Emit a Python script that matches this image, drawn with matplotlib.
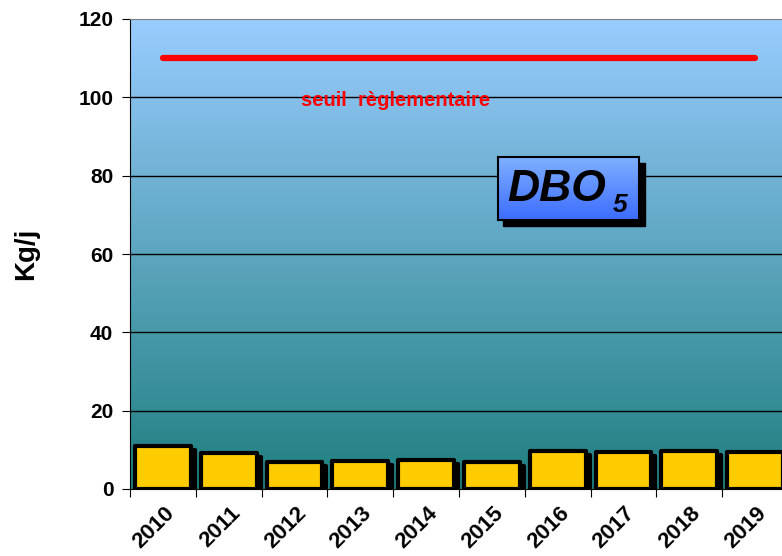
import numpy as np
import matplotlib.pyplot as plt
import matplotlib.transforms as mtransforms
from matplotlib.colors import LinearSegmentedColormap
from matplotlib.patches import Rectangle

plt.rcParams['font.family'] = ['Liberation Sans', 'DejaVu Sans']

annees = ['2010', '2011', '2012', '2013', '2014', '2015', '2016', '2017', '2018', '2019']
dbo5 = [11.1, 9.1, 6.8, 7.1, 7.5, 6.8, 9.8, 9.5, 9.8, 9.4]
seuil = 110
ymax = 120

W, H = 782, 556
fig = plt.figure(figsize=(W / 100, H / 100), dpi=100)
ax = fig.add_axes([130 / W, 1 - 489 / H, 658 / W, 470 / H])

n = len(annees)
x = np.arange(n) + 0.5

# fond degrade
fond = LinearSegmentedColormap.from_list('fond', ['#1F7F7F', '#99CCFF'])
grad = np.linspace(0, 1, 256).reshape(-1, 1)
ax.imshow(grad, cmap=fond, origin='lower', aspect='auto',
          extent=[0, n, 0, ymax], zorder=0)

ax.set_xlim(0, n)
ax.set_ylim(0, ymax)
ax.set_yticks(np.arange(0, 121, 20))
for v in range(20, 101, 20):
    ax.axhline(v, color='black', lw=1, zorder=1)

# barres avec ombre
dx = mtransforms.ScaledTranslation(4 / 100, -4 / 100, fig.dpi_scale_trans)
ax.bar(x, dbo5, width=0.85, color='black', edgecolor='black', lw=3,
       joinstyle='round', zorder=2, transform=ax.transData + dx)
ax.bar(x, dbo5, width=0.85, color='#FFCC00', edgecolor='black', lw=3,
       joinstyle='round', zorder=3)

# seuil
ax.plot([x[0], x[-1]], [seuil, seuil], color='#FF0000', lw=4.5,
        solid_capstyle='round', zorder=4)
ax.text((396 - 130) / 65.8, 99.3, 'seuil  règlementaire',
        color='#FF0000', fontsize=14.5, fontweight='bold',
        ha='center', va='center', zorder=5)

# axes
ax.set_xticks(np.arange(0, n + 1))
ax.set_xticklabels([])
ax.set_xticks(x, minor=True)
ax.set_xticklabels(annees, minor=True, rotation=45, ha='right', va='top',
                   rotation_mode='anchor', fontsize=16, fontweight='bold')
ax.tick_params(axis='x', which='minor', length=0, pad=10)
ax.tick_params(axis='x', which='major', length=6, direction='out')
off = mtransforms.ScaledTranslation(1 / 100, 0, fig.dpi_scale_trans)
for lab in ax.get_xticklabels(minor=True):
    lab.set_transform(lab.get_transform() + off)

ax.tick_params(axis='y', length=6, direction='out', pad=6, labelsize=15)
for lab in ax.get_yticklabels():
    lab.set_fontweight('bold')
ax.set_ylabel('Kg/j', fontsize=20, fontweight='bold', labelpad=28)

ax.spines['top'].set_color('#808080')
ax.spines['right'].set_visible(False)
ax.spines['left'].set_color('black')
ax.spines['bottom'].set_color('black')

# cadre DBO5
fig.patches.append(Rectangle((503 / W, 1 - 226 / H), 142 / W, 63 / H,
                             transform=fig.transFigure, color='black', zorder=5))
bax = fig.add_axes([498 / W, 1 - 220 / H, 141 / W, 63 / H], zorder=6)
bleu = LinearSegmentedColormap.from_list('bleu', ['#3C6CFF', '#80B0FF'])
bax.imshow(grad, cmap=bleu, origin='lower', aspect='auto', extent=[0, 1, 0, 1])
bax.set_xlim(0, 1)
bax.set_ylim(0, 1)
bax.set_xticks([])
bax.set_yticks([])
for sp in bax.spines.values():
    sp.set_linewidth(1.5)
    sp.set_color('black')
bax.text(0.065, 0.48, 'DBO', fontsize=32, fontweight='bold', style='italic',
         ha='left', va='center', transform=bax.transAxes)
bax.text(0.815, 0.24, '5', fontsize=19, fontweight='bold', style='italic',
         ha='left', va='center', transform=bax.transAxes)

fig.savefig('out.png', dpi=100)
